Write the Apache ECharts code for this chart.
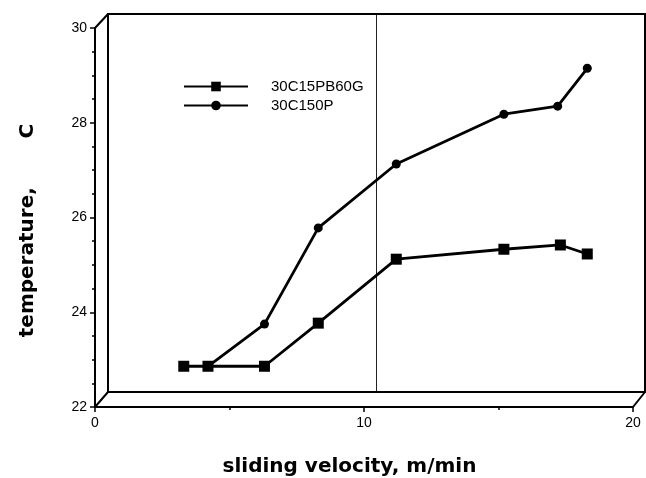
<!DOCTYPE html>
<html>
<head>
<meta charset="utf-8">
<script src="https://cdn.jsdelivr.net/npm/echarts@6/dist/echarts.min.js"></script>
<style>
  html, body { margin: 0; padding: 0; background: #fff; }
  #chart { width: 646px; height: 478px; }
</style>
</head>
<body>
<div id="chart"></div>
<script>
// 数据
const seriesNames = ['30C15PB60G', '30C150P']
const pbVelocity = [3.3, 4.2, 6.3, 8.3, 11.2, 15.2, 17.3, 18.3]
const pbTemp = [22.86, 22.86, 22.86, 23.77, 25.12, 25.33, 25.42, 25.23]
const pVelocity = [4.2, 6.3, 8.3, 11.2, 15.2, 17.2, 18.3]
const pTemp = [22.86, 23.75, 25.78, 27.13, 28.18, 28.35, 29.15]
const xTicks = [0, 10, 20]
const yTicks = [22, 24, 26, 28, 30]

const font = '"Liberation Sans", Arial, sans-serif'
const titleFont = '"DejaVu Sans", sans-serif'

// 前框 / 后框 (伪 3D 盒子)
const front = { left: 95, top: 28, right: 13, bottom: 71 }
const back = { left: 108, top: 14, right: 1, bottom: 86 }

const chart = echarts.init(document.getElementById('chart'))

const pair = (xs, ys) => xs.map((x, i) => [x, ys[i]])

const lineStyle = { color: '#000', width: 2.8 }

const options = {
  animation: false,
  backgroundColor: '#fff',
  legend: {
    orient: 'vertical',
    left: 178,
    top: 74,
    itemWidth: 64,
    itemHeight: 12,
    itemGap: 4,
    selectedMode: false,
    textStyle: {
      color: '#000',
      fontSize: 15,
      fontFamily: font,
      padding: [0, 0, 0, 18]
    },
    data: seriesNames
  },
  grid: [
    { ...front, containLabel: false, outerBoundsMode: 'none' },
    { ...back, containLabel: false, outerBoundsMode: 'none' }
  ],
  xAxis: [
    {
      gridIndex: 0,
      type: 'value',
      min: 0,
      max: 20,
      interval: 10,
      name: 'sliding velocity, m/min',
      nameLocation: 'middle',
      nameGap: 50,
      nameTextStyle: {
        color: '#000',
        fontSize: 20,
        fontWeight: 'bold',
        fontFamily: titleFont,
        padding: [0, 29, 0, 0]
      },
      axisLine: { show: true, lineStyle: { color: '#000', width: 2 } },
      axisTick: { show: true, length: 5, lineStyle: { color: '#000', width: 1.5 } },
      minorTick: { show: true, splitNumber: 2, length: 3, lineStyle: { color: '#000', width: 1.5 } },
      axisLabel: {
        color: '#000',
        fontSize: 14,
        fontFamily: font,
        margin: 9,
        formatter: (v) => (xTicks.includes(v) ? String(v) : '')
      },
      splitLine: { show: false }
    },
    {
      gridIndex: 1,
      type: 'value',
      min: 0,
      max: 20,
      interval: 10,
      position: 'bottom',
      axisLine: { show: true, onZero: false, lineStyle: { color: '#000', width: 2 } },
      axisTick: { show: false },
      axisLabel: { show: false },
      splitLine: { show: true, lineStyle: { color: '#222', width: 1 } }
    },
    {
      gridIndex: 1,
      type: 'value',
      min: 0,
      max: 20,
      position: 'top',
      axisLine: { show: true, onZero: false, lineStyle: { color: '#000', width: 2 } },
      axisTick: { show: false },
      axisLabel: { show: false },
      splitLine: { show: false }
    }
  ],
  yAxis: [
    {
      gridIndex: 0,
      type: 'value',
      min: 22,
      max: 30,
      interval: 2,
      name: 'temperature,       C',
      nameLocation: 'middle',
      nameGap: 57,
      nameTextStyle: {
        color: '#000',
        fontSize: 20,
        fontWeight: 'bold',
        fontFamily: titleFont,
        padding: [0, 26, 0, 0]
      },
      axisLine: { show: true, lineStyle: { color: '#000', width: 2 } },
      axisTick: { show: true, length: 5, lineStyle: { color: '#000', width: 1.5 } },
      minorTick: { show: true, splitNumber: 4, length: 3, lineStyle: { color: '#000', width: 1.5 } },
      axisLabel: {
        color: '#000',
        fontSize: 14,
        fontFamily: font,
        margin: 8,
        formatter: (v) => (yTicks.includes(v) ? String(v) : '')
      },
      splitLine: { show: false }
    },
    {
      gridIndex: 1,
      type: 'value',
      min: 22,
      max: 30,
      position: 'left',
      axisLine: { show: true, onZero: false, lineStyle: { color: '#000', width: 2 } },
      axisTick: { show: false },
      axisLabel: { show: false },
      splitLine: { show: false }
    },
    {
      gridIndex: 1,
      type: 'value',
      min: 22,
      max: 30,
      position: 'right',
      axisLine: { show: true, onZero: false, lineStyle: { color: '#000', width: 2 } },
      axisTick: { show: false },
      axisLabel: { show: false },
      splitLine: { show: false }
    }
  ],
  // 连接前后框的斜线
  graphic: [
    { type: 'line', shape: { x1: front.left, y1: front.top, x2: back.left, y2: back.top }, style: { stroke: '#000', lineWidth: 2 } },
    { type: 'line', shape: { x1: front.left, y1: 478 - front.bottom, x2: back.left, y2: 478 - back.bottom }, style: { stroke: '#000', lineWidth: 2 } },
    { type: 'line', shape: { x1: 646 - front.right, y1: 478 - front.bottom, x2: 646 - back.right, y2: 478 - back.bottom }, style: { stroke: '#000', lineWidth: 2 } }
  ],
  series: [
    {
      name: seriesNames[0],
      type: 'line',
      xAxisIndex: 0,
      yAxisIndex: 0,
      data: pair(pbVelocity, pbTemp),
      symbol: 'rect',
      symbolSize: 11,
      itemStyle: { color: '#000' },
      lineStyle,
      z: 5
    },
    {
      name: seriesNames[1],
      type: 'line',
      xAxisIndex: 0,
      yAxisIndex: 0,
      data: pair(pVelocity, pTemp),
      symbol: 'circle',
      symbolSize: 9,
      itemStyle: { color: '#000' },
      lineStyle,
      z: 5
    }
  ]
}

chart.setOption(options)
</script>
</body>
</html>
